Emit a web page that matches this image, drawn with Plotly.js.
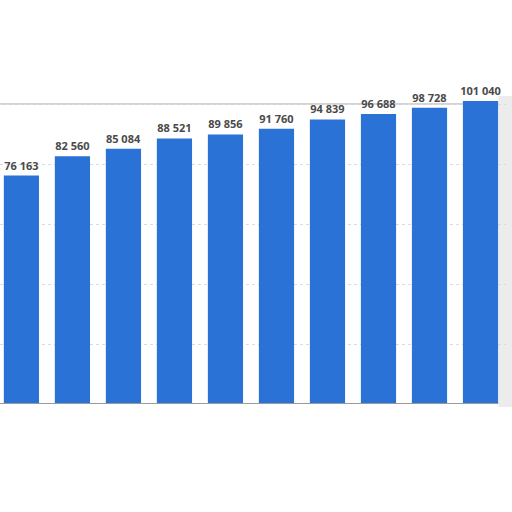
<!DOCTYPE html>
<html>
<head>
<meta charset="utf-8">
<script src="https://cdn.plot.ly/plotly-3.0.1.min.js"></script>
<style>html,body{margin:0;padding:0;background:#fff;}#chart{width:512px;height:512px;}</style>
</head>
<body>
<div id="chart"></div>
<script>
var categories = ["1","2","3","4","5","6","7","8","9","10"];
var values = [76163, 82560, 85084, 88521, 89856, 91760, 94839, 96688, 98728, 101040];

var trace = {
  type: 'bar',
  x: categories,
  y: values,
  marker: {color: '#2a72d6'},
  texttemplate: '%{y:,}',
  textposition: 'outside',
  constraintext: 'none',
  cliponaxis: false,
  textfont: {family: 'Open Sans', size: 11, color: '#4a4a4a', weight: 'bold'},
  hoverinfo: 'none'
};

var layout = {
  width: 512, height: 512,
  margin: {l: 0, r: 6, t: 96, b: 108, pad: 0},
  paper_bgcolor: '#fff', plot_bgcolor: '#fff',
  separators: '. ',
  showlegend: false,
  bargap: 0.31,
  xaxis: {type: 'category', range: [-0.42, 9.5], showticklabels: false, ticks: '', showgrid: false, zeroline: false, showline: false, fixedrange: true},
  yaxis: {range: [0, 102667], dtick: 20000, showticklabels: false, ticks: '', showgrid: true, gridcolor: '#dcdcdc', griddash: 'dot', gridwidth: 1, zeroline: false, showline: true, linecolor: '#d6d6d6', linewidth: 2, fixedrange: true},
  shapes: [
    {type: 'rect', xref: 'paper', yref: 'paper', x0: 0.985, x1: 1.02, y0: -0.01, y1: 1.0, fillcolor: '#ececec', line: {width: 0}, layer: 'below'},
    {type: 'line', xref: 'paper', yref: 'y', x0: 0, x1: 0.985, y0: 100000, y1: 100000, line: {color: '#c4c4c4', width: 1.5}, layer: 'below'},
    {type: 'line', xref: 'paper', yref: 'y', x0: 0, x1: 0.985, y0: 0, y1: 0, line: {color: '#9a9a9a', width: 2}, layer: 'above'}
  ]
};

Plotly.newPlot('chart', [trace], layout, {displayModeBar: false, staticPlot: true});
</script>
</body>
</html>
